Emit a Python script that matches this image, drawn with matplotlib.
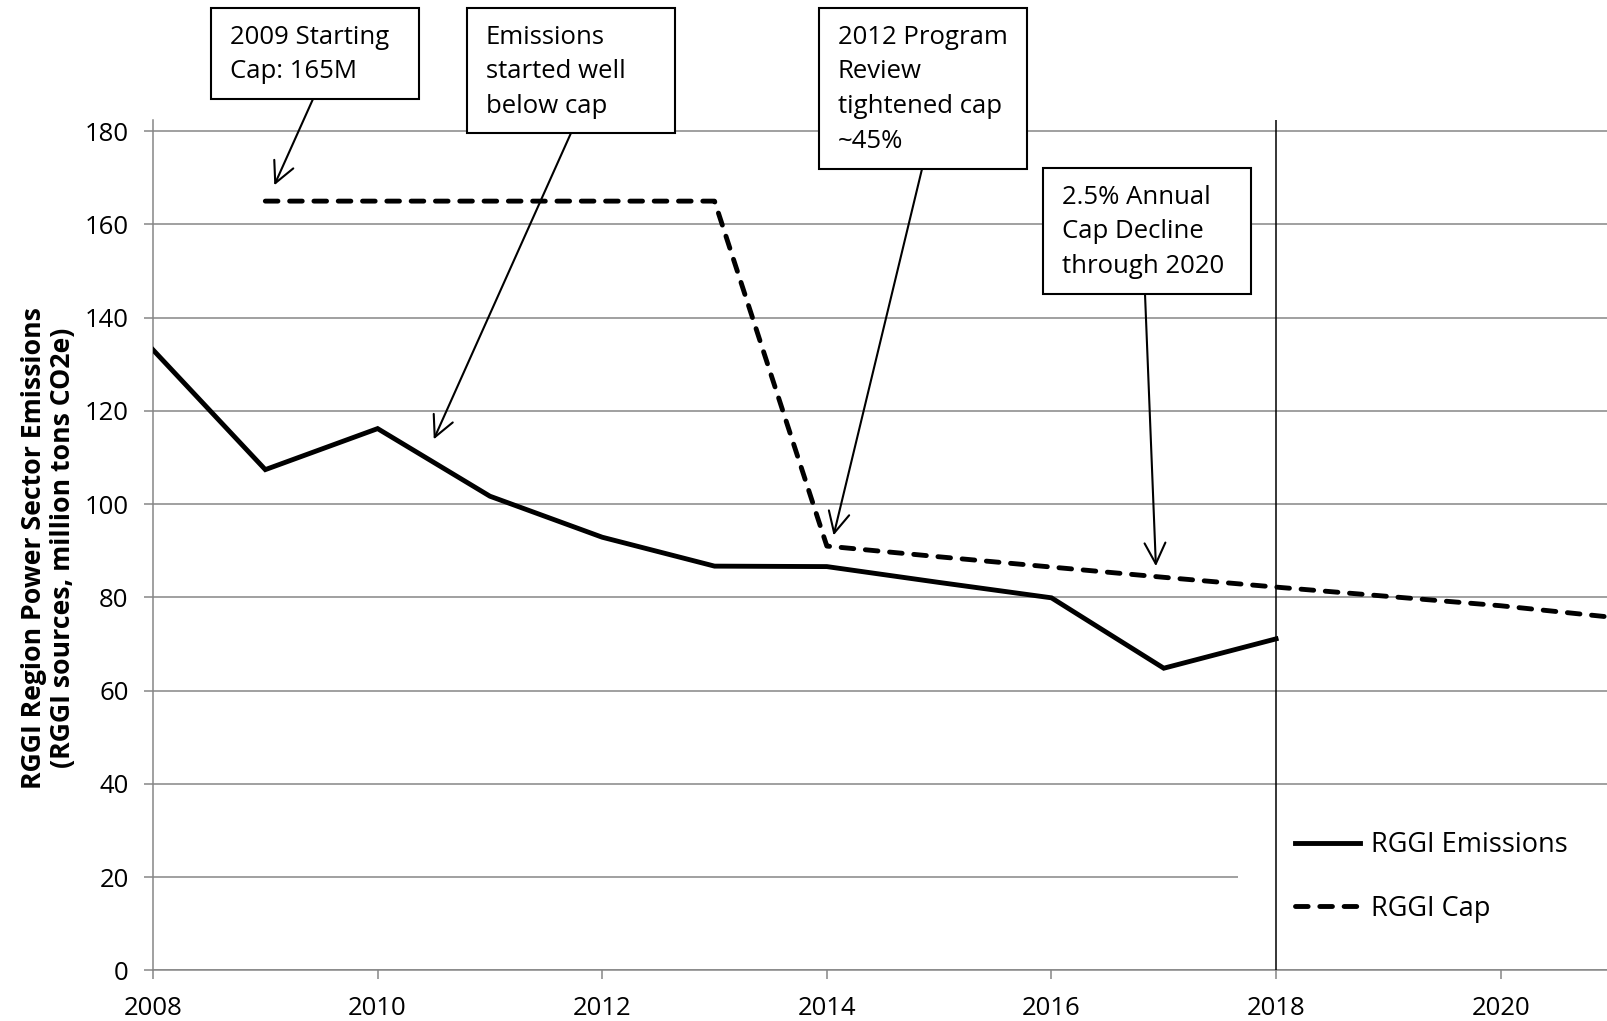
import matplotlib
matplotlib.use("Agg")
import matplotlib.pyplot as plt
from matplotlib.patches import Rectangle

plt.rcParams['font.family'] = ['Open Sans', 'DejaVu Sans']

# ---- data ----
em_years = [2008, 2009, 2010, 2011, 2012, 2013, 2014, 2015, 2016, 2017, 2018]
em_values = [133.1, 107.4, 116.2, 101.7, 92.9, 86.7, 86.6, 83.2, 79.9, 64.8, 71.1]
cap_years = [2009, 2010, 2011, 2012, 2013, 2014, 2015, 2016, 2017, 2018, 2019, 2020, 2021]
cap_values = [165, 165, 165, 165, 165, 91.0, 88.7, 86.5, 84.3, 82.2, 80.2, 78.2, 75.7]
x_ticks = [2008, 2010, 2012, 2014, 2016, 2018, 2020]
y_ticks = [0, 20, 40, 60, 80, 100, 120, 140, 160, 180]
series_labels = ["RGGI Emissions", "RGGI Cap"]
ylabel = "RGGI Region Power Sector Emissions\n(RGGI sources, million tons CO2e)"
notes = [
    "2009 Starting\nCap: 165M",
    "Emissions\nstarted well\nbelow cap",
    "2012 Program\nReview\ntightened cap\n~45%",
    "2.5% Annual\nCap Decline\nthrough 2020",
]
note_targets = [(2009.08, 168.4), (2010.50, 113.9), (2014.06, 93.3), (2016.93, 86.7)]
# box layout in figure pixels (left, top, right, bottom), measured from top
note_boxes = [(211, 8, 419, 99), (467, 8, 675, 133), (819, 8, 1027, 169), (1043, 168, 1251, 294)]
note_arrow_start = [(313, 99), (571, 133), (922, 169), (1145, 294)]

W, H = 1608, 1021
fig = plt.figure(figsize=(W / 100, H / 100), dpi=100)
ax_left, ax_right, ax_top, ax_bottom = 153, 1613, 120, 970.3
ax = fig.add_axes([ax_left / W, 1 - ax_bottom / H, (ax_right - ax_left) / W, (ax_bottom - ax_top) / H])

grey = '#868686'
ax.set_xlim(2008, 2021)
ax.set_ylim(0, 182.4)
ax.set_xticks(x_ticks)
ax.set_yticks(y_ticks)
ax.yaxis.grid(True, color=grey, lw=1.1)
ax.set_axisbelow(True)
for s in ['top', 'right']:
    ax.spines[s].set_visible(False)
for s in ['left', 'bottom']:
    ax.spines[s].set_color(grey)
    ax.spines[s].set_linewidth(1.1)
ax.tick_params(axis='both', colors=grey, labelcolor='black', labelsize=18.5, length=6.5, width=1.1)
ax.tick_params(axis='y', pad=11)
ax.tick_params(axis='x', pad=12)

# white area behind legend (covers gridline)
ax.add_patch(Rectangle(((1238 - ax_left) / (ax_right - ax_left), (ax_bottom - 955) / (ax_bottom - ax_top)),
                       1, (955 - 800) / (ax_bottom - ax_top), transform=ax.transAxes,
                       facecolor='white', edgecolor='none', zorder=1))

ax.plot(em_years, em_values, color='black', lw=3.5, solid_joinstyle='miter', zorder=3,
        label=series_labels[0])
ax.plot(cap_years, cap_values, color='black', lw=3.5, dashes=(2.6, 2.4), dash_capstyle='round',
        zorder=3, label=series_labels[1], clip_on=True)
ax.axvline(2018, color='black', lw=1.1, zorder=6)

leg = ax.legend(loc='center left', bbox_to_anchor=((1295 - ax_left) / (ax_right - ax_left),
                                                   (ax_bottom - 877) / (ax_bottom - ax_top)),
                frameon=False, fontsize=19.5, borderpad=0, borderaxespad=0,
                handlelength=2.4, handletextpad=0.4, labelspacing=1.3)

# annotation boxes
for txt, (l, t, r, b), (sx, sy), tgt in zip(notes, note_boxes, note_arrow_start, note_targets):
    fig.add_artist(Rectangle((l / W, 1 - b / H), (r - l) / W, (b - t) / H, transform=fig.transFigure,
                             facecolor='white', edgecolor='black', lw=1.5, zorder=3))
    fig.text((l + 19) / W, 1 - (t + 17) / H, txt, ha='left', va='top', fontsize=18.5,
             linespacing=1.5, zorder=4)
    ax.annotate('', xy=tgt, xycoords='data', xytext=(sx, H - sy), textcoords='figure pixels',
                arrowprops=dict(arrowstyle='->,head_length=0.6,head_width=0.3', color='black',
                                lw=1.5, shrinkA=0, shrinkB=0, mutation_scale=25),
                annotation_clip=False, zorder=2)

fig.text(49 / W, 1 - 548 / H, ylabel, rotation=90, ha='center', va='center', fontsize=19.2,
         fontweight='bold', linespacing=1.15)

fig.savefig('out.png', dpi=100)
